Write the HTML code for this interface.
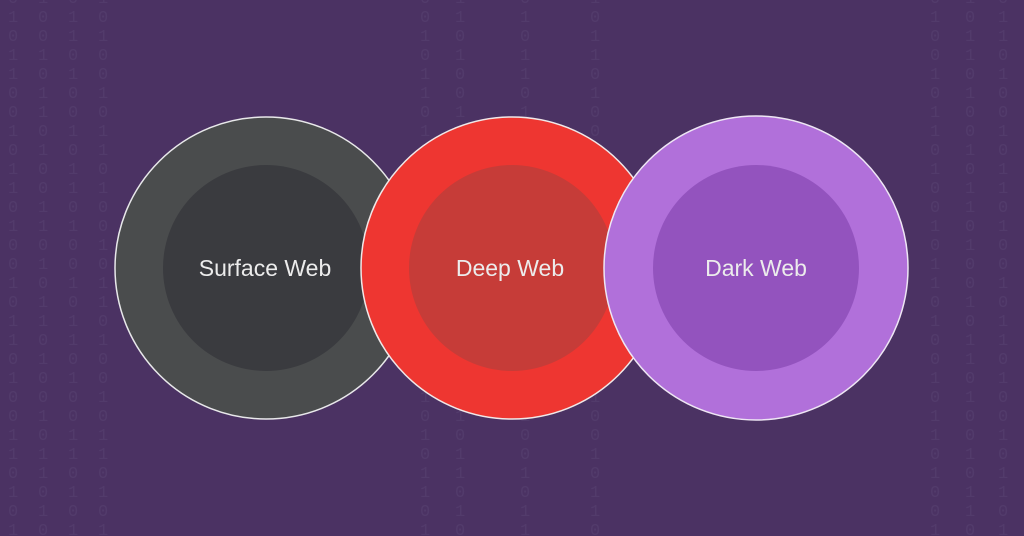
<!DOCTYPE html>
<html><head><meta charset="utf-8"><style>
html,body{margin:0;padding:0;width:1024px;height:536px;overflow:hidden;}
body{background:#4b3263;position:relative;font-family:"Liberation Sans",sans-serif;}
.col{position:absolute;top:-10px;width:12px;height:560px;overflow:hidden;word-break:break-all;font-family:"Liberation Mono",monospace;font-size:17px;line-height:19px;color:#5c4876;opacity:.45;}
svg{position:absolute;left:0;top:0;}
</style></head><body>
<div class="col" style="left:8px">0101100101101001011010011010110100101101</div>
<div class="col" style="left:38px">1001011010011010110100101101001011010110</div>
<div class="col" style="left:68px">0110100101101001011010011010110100101101</div>
<div class="col" style="left:98px">1010010110100101101001011010110100101101</div>
<div class="col" style="left:420px">0010110100101101001011010110100101101001</div>
<div class="col" style="left:455px">1101001011010010110100101101001011010010</div>
<div class="col" style="left:520px">0101101001011010010110100101101001011010</div>
<div class="col" style="left:590px">1011010010110100101101001011010010110100</div>
<div class="col" style="left:930px">0100101101001011010010110100101101001011</div>
<div class="col" style="left:965px">1011010010110100101101001011010010110100</div>
<div class="col" style="left:998px">0110100101101001011010010110100101101001</div>
<svg width="1024" height="536">
<circle cx="266" cy="268" r="151" fill="#4a4c4d" stroke="#e8e8ea" stroke-width="1.5"/>
<circle cx="266" cy="268" r="103" fill="#3a3b3f"/>
<circle cx="512" cy="268" r="151" fill="#ee3631" stroke="#f0e8e8" stroke-width="1.5"/>
<circle cx="512" cy="268" r="103" fill="#c63c38"/>
<circle cx="756" cy="268" r="152" fill="#b170da" stroke="#eee6f4" stroke-width="1.5"/>
<circle cx="756" cy="268" r="103" fill="#9353be"/>
<g font-family="Liberation Sans, sans-serif" font-size="23" fill="#ececec" text-anchor="middle">
<text x="265" y="276">Surface Web</text>
<text x="510" y="276">Deep Web</text>
<text x="756" y="276">Dark Web</text>
</g>
</svg>
</body></html>
